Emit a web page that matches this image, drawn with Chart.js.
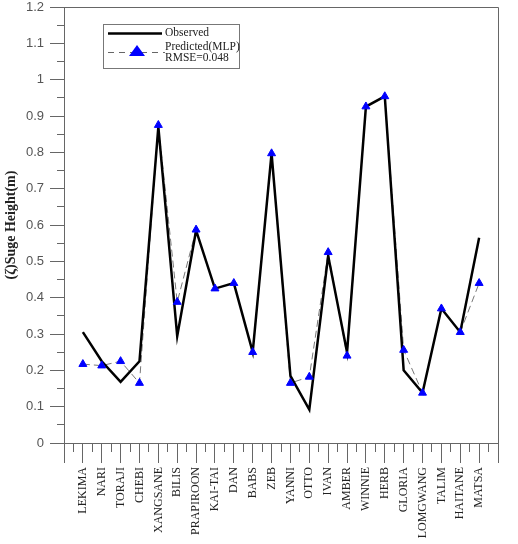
<!DOCTYPE html>
<html>
<head>
<meta charset="utf-8">
<script src="https://cdn.jsdelivr.net/npm/chart.js@4/dist/chart.umd.min.js"></script>
<style>
  html, body { margin:0; padding:0; background:#fff; }
  #wrap { width:518px; height:544px; }
</style>
</head>
<body>
<div id="wrap"><canvas id="surgeChart"></canvas></div>
<script>
/* ===== DATA ===== */
const storms = ["LEKIMA","NARI","TORAJI","CHEBI","XANGSANE","BILIS","PRAPIROON","KAI-TAI","DAN","BABS","ZEB",
  "YANNI","OTTO","IVAN","AMBER","WINNIE","HERB","GLORIA","LOMGWANG","TALIM","HAITANE","MATSA"];

const observed = [0.305,0.225,0.168,0.225,0.87,0.294,0.585,0.425,0.44,0.25,0.797,
  0.185,0.092,0.515,0.25,0.926,0.954,0.2,0.138,0.37,0.305,0.565];

const predicted = [0.217,0.213,0.225,0.165,0.875,0.388,0.587,0.425,0.44,0.25,0.797,
  0.165,0.182,0.525,0.24,0.926,0.954,0.256,0.138,0.37,0.305,0.44];

const legendLabels = ["Observed","Predicted(MLP)","RMSE=0.048"];

const pts = arr => arr.map((v,i)=>({x:i+1, y:v}));
const isWhole = v => Math.abs(v - Math.round(v)) < 1e-6;

// frame (top + right side of plot box)
const framePlugin = {
  id:"frame",
  beforeDatasetsDraw(chart){
    const {ctx, chartArea:a} = chart;
    ctx.save();
    ctx.strokeStyle = "#666";
    ctx.lineWidth = 1;
    ctx.beginPath();
    ctx.moveTo(a.left, a.top + 0.5);
    ctx.lineTo(a.right + 0.5, a.top + 0.5);
    ctx.lineTo(a.right + 0.5, a.bottom);
    ctx.stroke();
    ctx.restore();
  }
};

// boxed legend inside the plot
const boxLegend = {
  id:"boxLegend",
  afterDraw(chart){
    const {ctx, chartArea:a} = chart;
    const x = a.left + 39, y = a.top + 17;
    ctx.save();
    ctx.fillStyle = "#fff";
    ctx.fillRect(x, y, 136, 44);
    ctx.strokeStyle = "#777";
    ctx.lineWidth = 1;
    ctx.strokeRect(x + 0.5, y + 0.5, 136, 44);

    // observed sample
    ctx.strokeStyle = "#000";
    ctx.lineWidth = 2.5;
    ctx.beginPath();
    ctx.moveTo(x + 5, y + 9.5);
    ctx.lineTo(x + 59, y + 9.5);
    ctx.stroke();

    // predicted sample
    ctx.strokeStyle = "#666";
    ctx.lineWidth = 1;
    ctx.setLineDash([6,5]);
    ctx.beginPath();
    ctx.moveTo(x + 5, y + 28.5);
    ctx.lineTo(x + 62, y + 28.5);
    ctx.stroke();
    ctx.setLineDash([]);
    ctx.fillStyle = "#0000ff";
    ctx.beginPath();
    ctx.moveTo(x + 34, y + 21);
    ctx.lineTo(x + 42, y + 32);
    ctx.lineTo(x + 26, y + 32);
    ctx.closePath();
    ctx.fill();

    ctx.fillStyle = "#222";
    ctx.font = "11.5px 'Liberation Serif'";
    ctx.textBaseline = "middle";
    ctx.fillText(legendLabels[0], x + 62, y + 9);
    ctx.fillText(legendLabels[1], x + 62, y + 23);
    ctx.fillText(legendLabels[2], x + 62, y + 34);
    ctx.restore();
  }
};

new Chart(document.getElementById("surgeChart"), {
  type:"line",
  data:{
    datasets:[
      { // markers on top
        label:legendLabels[1],
        data:pts(predicted),
        showLine:false,
        pointStyle:"triangle",
        pointRadius:4.6,
        pointBackgroundColor:"#0000ff",
        pointBorderColor:"#0000ff",
        pointBorderWidth:1
      },
      {
        label:legendLabels[0],
        data:pts(observed),
        borderColor:"#000",
        borderWidth:2.5,
        pointRadius:0,
        tension:0
      },
      {
        label:legendLabels[1],
        data:pts(predicted),
        borderColor:"#777",
        borderWidth:1,
        borderDash:[7,4],
        pointRadius:0,
        tension:0
      }
    ]
  },
  options:{
    responsive:true,
    maintainAspectRatio:false,
    animation:false,
    layout:{ padding:{ top:7, right:20, left:0, bottom:0 } },
    plugins:{ legend:{display:false}, tooltip:{enabled:false} },
    scales:{
      x:{
        type:"linear",
        min:0, max:storms.length + 1,
        afterFit(s){ s.height = 101; s.paddingLeft = 0; s.paddingRight = 0; },
        border:{ color:"#666", width:1 },
        grid:{
          drawOnChartArea:false,
          tickLength:20,
          tickColor:"#666",
          tickBorderDash: c => isWhole(c.tick.value) ? [] : [8,100]
        },
        ticks:{
          stepSize:0.5,
          autoSkip:false,
          minRotation:90, maxRotation:90,
          padding:4,
          color:"#222",
          font:{ family:"Liberation Serif", size:12 },
          callback: v => (isWhole(v) && v >= 1 && v <= storms.length) ? storms[Math.round(v) - 1] : ""
        }
      },
      y:{
        min:0, max:1.2,
        afterFit(s){ s.width = 64; s.paddingTop = 0; s.paddingBottom = 0; },
        border:{ color:"#666", width:1 },
        grid:{
          drawOnChartArea:false,
          tickLength:14,
          tickColor:"#666",
          tickBorderDash: c => isWhole(c.tick.value * 10) ? [] : [0,7,7]
        },
        ticks:{
          stepSize:0.05,
          autoSkip:false,
          padding:6,
          color:"#555",
          font:{ family:"Liberation Sans", size:13 },
          callback: v => isWhole(v * 10) ? String(+v.toFixed(1)) : ""
        },
        title:{
          display:true,
          text:"(ζ)Suge Height(m)",
          color:"#222",
          padding:{ top:3, bottom:0 },
          font:{ family:"Liberation Serif", size:14, weight:"bold" }
        }
      }
    }
  },
  plugins:[framePlugin, boxLegend]
});
</script>
</body>
</html>
